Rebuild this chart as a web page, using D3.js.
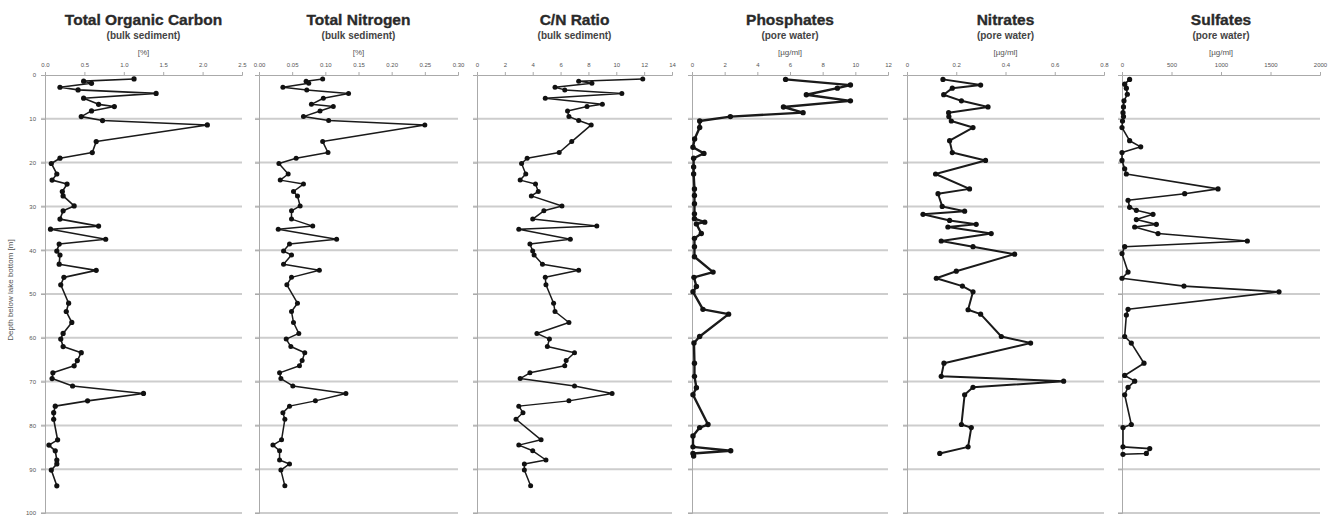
<!DOCTYPE html>
<html><head><meta charset="utf-8">
<script src="https://cdn.jsdelivr.net/npm/d3@7"></script>
<style>body{margin:0;background:#fff;} svg{display:block;font-family:"Liberation Sans",Arial,sans-serif;}</style>
</head><body><svg id="c" width="1334" height="515"></svg>
<script>
// ---- data ----
const depthTicks = [0,10,20,30,40,50,60,70,80,90,100];

const bulkDepth = [0.9,1.4,1.9,2.8,3.4,4.2,5.3,6.7,7.2,8.2,9.5,10.4,11.4,15.2,17.7,19.0,20.2,22.6,24.0,24.9,26.6,27.6,29.9,31.0,32.9,34.5,35.2,37.5,38.6,40.2,41.1,43.2,44.6,46.2,47.9,52.1,54.0,56.5,59.0,60.3,62.0,63.4,65.2,66.4,68.0,69.3,71.0,72.7,74.4,75.6,77.1,78.6,83.3,84.5,85.8,87.9,88.8,90.2,93.8];
const tocValues = [1.13,0.49,0.59,0.19,0.42,1.41,0.49,0.68,0.88,0.59,0.46,0.73,2.06,0.65,0.6,0.19,0.08,0.15,0.09,0.28,0.22,0.23,0.37,0.23,0.19,0.68,0.07,0.77,0.18,0.15,0.19,0.18,0.65,0.24,0.2,0.3,0.27,0.34,0.23,0.2,0.23,0.46,0.41,0.37,0.1,0.09,0.35,1.25,0.54,0.13,0.11,0.11,0.16,0.05,0.13,0.15,0.15,0.08,0.15];
const tnValues = [0.096,0.071,0.075,0.036,0.072,0.135,0.097,0.079,0.112,0.092,0.067,0.105,0.25,0.096,0.104,0.056,0.03,0.044,0.032,0.067,0.052,0.058,0.062,0.049,0.049,0.081,0.029,0.117,0.046,0.037,0.049,0.037,0.091,0.049,0.042,0.058,0.049,0.052,0.06,0.041,0.048,0.069,0.065,0.061,0.031,0.033,0.051,0.131,0.085,0.046,0.036,0.039,0.034,0.021,0.031,0.031,0.046,0.033,0.039];
const cnValues = [11.9,7.3,8.25,5.6,6.3,10.4,4.9,9.0,7.9,6.5,6.6,7.3,8.2,6.8,5.9,3.6,3.2,3.5,3.1,4.2,4.4,3.9,6.1,4.8,4.0,8.6,3.0,6.7,3.8,4.0,4.1,4.7,7.3,4.9,4.95,5.5,5.6,6.6,4.3,5.2,5.05,7.0,6.4,6.3,3.8,3.1,7.0,9.7,6.6,3.0,3.3,2.8,4.6,3.0,4.0,4.95,3.4,3.4,3.85];

const phosDepth = [1.0,2.3,3.0,4.5,5.9,7.3,8.6,9.5,10.5,12.0,14.6,16.5,17.9,19.0,21.0,22.6,26.0,27.5,29.4,31.7,32.8,33.6,34.0,36.2,37.3,39.2,41.5,45.0,46.2,48.3,49.5,53.5,54.6,59.7,61.2,65.8,68.8,71.4,73.0,79.8,80.5,82.4,84.9,85.8,86.4,87.0];
const phosValues = [5.73,9.7,8.9,7.0,9.7,5.6,6.8,2.35,0.47,0.47,0.16,0.06,0.73,0.1,0.1,0.1,0.15,0.15,0.15,0.15,0.15,0.78,0.27,0.57,0.15,0.15,0.15,1.29,0.12,0.27,0.06,0.67,2.24,0.47,0.12,0.15,0.15,0.27,0.06,0.98,0.47,0.06,0.06,2.37,0.06,0.1];

const nitrDepth = [1.0,2.3,3.0,4.5,5.9,7.3,8.6,9.5,10.5,12.0,15.0,17.7,19.5,22.6,26.0,27.1,30.0,31.1,31.8,33.2,34.1,34.7,36.2,37.9,39.2,40.9,44.8,46.4,48.2,49.5,53.6,54.6,59.7,61.2,65.8,68.8,69.9,71.3,73.0,79.8,80.5,84.9,86.4];
const nitrValues = [0.146,0.299,0.184,0.149,0.221,0.329,0.169,0.17,0.18,0.268,0.173,0.184,0.319,0.116,0.254,0.126,0.143,0.234,0.065,0.173,0.281,0.166,0.342,0.139,0.268,0.437,0.2,0.119,0.225,0.268,0.248,0.299,0.383,0.502,0.15,0.139,0.636,0.268,0.234,0.221,0.261,0.248,0.133];

const sulfDepth = [1.0,2.1,3.0,4.4,5.9,7.3,8.6,9.5,10.5,12.0,15.0,16.4,17.7,19.5,21.4,22.6,26.0,27.1,28.6,30.2,30.9,31.8,33.0,34.1,34.7,36.2,37.9,39.2,40.8,45.0,46.4,48.2,49.5,53.5,54.8,59.7,61.2,65.8,68.6,69.9,71.3,73.0,79.8,80.5,84.9,85.3,86.4,86.6];
const sulfValues = [77,27,44,54,20,15,10,15,5,0,77,189,0,0,27,44,970,633,61,77,145,313,145,347,128,364,1266,27,0,61,0,626,1586,61,44,27,94,222,27,128,61,27,94,10,10,280,246,10];

const titles = ["Total Organic Carbon","Total Nitrogen","C/N Ratio","Phosphates","Nitrates","Sulfates"];
const subtitles = ["(bulk sediment)","(bulk sediment)","(bulk sediment)","(pore water)","(pore water)","(pore water)"];
const units = ["[%]","[%]","","[\u00b5g/ml]","[\u00b5g/ml]","[\u00b5g/ml]"];
const tocTicks = [0,0.5,1.0,1.5,2.0,2.5];
const tnTicks = [0,0.05,0.10,0.15,0.20,0.25,0.30];
const cnTicks = [0,2,4,6,8,10,12,14];
const phosTicks = [0,2,4,6,8,10,12];
const nitrTicks = [0,0.2,0.4,0.6,0.8];
const sulfTicks = [0,500,1000,1500,2000];

// ---- layout ----
const panels = [
  {depth:bulkDepth, values:tocValues, ticks:tocTicks, fmt:d3.format(".1f"), x0:45, w:197, lw:1.6, r:2.6},
  {depth:bulkDepth, values:tnValues, ticks:tnTicks, fmt:d3.format(".2f"), x0:259, w:199, lw:1.5, r:2.5},
  {depth:bulkDepth, values:cnValues, ticks:cnTicks, fmt:d3.format("d"), x0:477, w:195, lw:1.5, r:2.5},
  {depth:phosDepth, values:phosValues, ticks:phosTicks, fmt:d3.format("d"), x0:692, w:196, lw:2.4, r:2.7},
  {depth:nitrDepth, values:nitrValues, ticks:nitrTicks, fmt:d => d===0?"0":d3.format(".1f")(d), x0:907, w:197, lw:2.0, r:2.6},
  {depth:sulfDepth, values:sulfValues, ticks:sulfTicks, fmt:d3.format("d"), x0:1122, w:198, lw:1.6, r:2.6}
];
const plotTop = 75, plotBottom = 513;
const y = d3.scaleLinear().domain([0,100]).range([plotTop,plotBottom]);
const svg = d3.select("#c");

panels.forEach((p,i) => {
  const x = d3.scaleLinear().domain([p.ticks[0], p.ticks[p.ticks.length-1]]).range([p.x0, p.x0+p.w]);
  const g = svg.append("g");
  const cx = p.x0 + p.w/2;
  g.append("text").attr("x",cx).attr("y",25).attr("text-anchor","middle")
    .attr("font-size",15.5).attr("font-weight","bold").attr("fill","#2a2a2a")
    .attr("stroke","#2a2a2a").attr("stroke-width",0.35).text(titles[i]);
  g.append("text").attr("x",cx).attr("y",39).attr("text-anchor","middle")
    .attr("font-size",10).attr("font-weight","bold").attr("fill","#444").text(subtitles[i]);
  if (units[i]) g.append("text").attr("x",cx).attr("y",55).attr("text-anchor","middle")
    .attr("font-size",8).attr("fill","#555").text(units[i]);

  // gridlines
  g.selectAll("line.grid").data(depthTicks.filter(d=>d>0)).join("line")
    .attr("class","grid")
    .attr("x1",p.x0-4).attr("x2",p.x0+p.w).attr("y1",d=>y(d)).attr("y2",d=>y(d))
    .attr("stroke","#cdcdcd").attr("stroke-width",2);

  // top axis
  const ax = d3.axisTop(x).tickValues(p.ticks).tickFormat(p.fmt).tickSize(3).tickPadding(5);
  const ag = g.append("g").attr("transform",`translate(0,${plotTop})`).call(ax);
  ag.select(".domain").attr("stroke","#aaa");
  ag.selectAll(".tick line").attr("stroke","#aaa");
  ag.selectAll(".tick text").attr("font-size",6).attr("fill","#555").attr("font-family","Liberation Sans, Arial, sans-serif");

  // left axis
  const ay = d3.axisLeft(y).tickValues(depthTicks).tickSize(4).tickFormat(i===0? d3.format("d") : "").tickPadding(5);
  const lg = g.append("g").attr("transform",`translate(${p.x0},0)`).call(ay);
  lg.select(".domain").attr("stroke","#aaa");
  lg.selectAll(".tick line").attr("stroke","#aaa");
  lg.selectAll(".tick text").attr("font-size",6).attr("fill","#555").attr("font-family","Liberation Sans, Arial, sans-serif");

  // series
  const pts = p.depth.map((d,k)=>[p.values[k], d]);
  const line = d3.line().x(d=>x(d[0])).y(d=>y(d[1]));
  g.append("path").datum(pts).attr("d",line).attr("fill","none")
    .attr("stroke","#1a1a1a").attr("stroke-width",p.lw).attr("stroke-linejoin","round");
  g.selectAll("circle").data(pts).join("circle")
    .attr("cx",d=>x(d[0])).attr("cy",d=>y(d[1])).attr("r",p.r).attr("fill","#111");
});

svg.append("text").attr("transform","translate(13,290) rotate(-90)")
  .attr("text-anchor","middle").attr("font-size",8).attr("fill","#555")
  .text("Depth below lake bottom [m]");
</script>
</body></html>
